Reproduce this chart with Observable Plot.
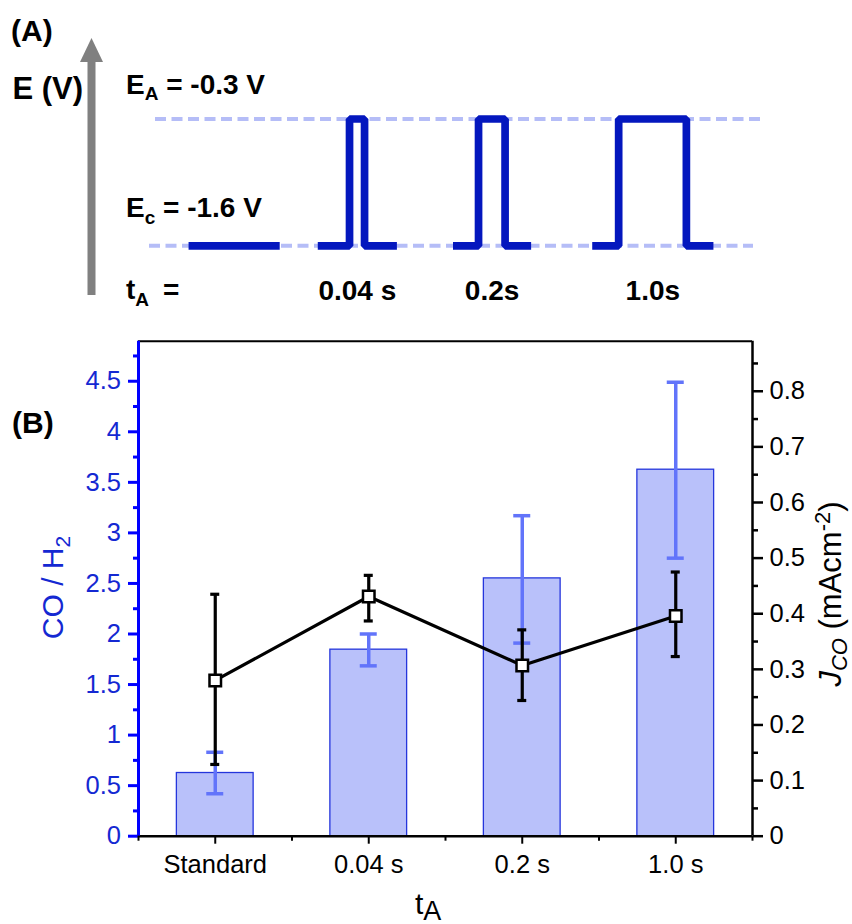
<!DOCTYPE html>
<html><head><meta charset="utf-8">
<script src="https://cdn.jsdelivr.net/npm/d3@7"></script>
<script src="https://cdn.jsdelivr.net/npm/@observablehq/plot@0.6"></script>
<style>
body{margin:0;background:#fff;}
#wrap{position:relative;width:852px;height:924px;font-family:"Liberation Sans",Arial,sans-serif;}
#wrap svg{display:block;}
</style></head><body><div id="wrap"></div>
<script>
// ---------- Panel A: potential waveform (schematic time units) ----------
const EA = -0.3, Ec = -1.6;
const waveNames = ["Standard", "0.04 s", "0.2s", "1.0s"];
const waveStart = [3.9, 16.8, 30.3, 44.2];
const pulseOn   = [null, 19.97, 32.85, 46.84];
const pulseOff  = [null, 21.47, 35.5, 53.6];
const waveEnd   = [13.0, 24.7, 38.1, 56.3];
const guideLevels = [EA, Ec];
const guideStart  = [0.6, 0];
const guideEnd    = [61, 60.3];

// ---------- Panel B: CO/H2 ratio (bars) and J_CO (line) ----------
const categories = ["Standard", "0.04 s", "0.2 s", "1.0 s"];
const ratio   = [0.625, 1.845, 2.55, 3.625];
const ratioHi = [0.83, 2.0, 3.17, 4.49];
const ratioLo = [0.42, 1.685, 1.91, 2.75];
const jco   = [0.28, 0.431, 0.307, 0.396];
const jcoHi = [0.435, 0.469, 0.371, 0.475];
const jcoLo = [0.129, 0.387, 0.244, 0.323];
const leftTicks  = [0, 0.5, 1, 1.5, 2, 2.5, 3, 3.5, 4, 4.5];
const leftMinor  = [0.25, 0.75, 1.25, 1.75, 2.25, 2.75, 3.25, 3.75, 4.25, 4.75];
const rightTicks = [0, 0.1, 0.2, 0.3, 0.4, 0.5, 0.6, 0.7, 0.8];
const rightMinor = [0.05, 0.15, 0.25, 0.35, 0.45, 0.55, 0.65, 0.75, 0.85];
const leftMax = 4.896, rightMax = 0.89;

const FONT = '"Liberation Sans", Arial, sans-serif';
const wrap = document.getElementById("wrap");

// ---------- build panel A ----------
const wave = [];
waveStart.forEach((s, i) => {
  wave.push({t: s, E: Ec, seg: i});
  if (pulseOn[i] != null) {
    wave.push({t: pulseOn[i], E: Ec, seg: i});
    wave.push({t: pulseOn[i], E: EA, seg: i});
    wave.push({t: pulseOff[i], E: EA, seg: i});
    wave.push({t: pulseOff[i], E: Ec, seg: i});
  }
  wave.push({t: waveEnd[i], E: Ec, seg: i});
});
const guides = guideLevels.map((E, i) => ({E, t1: guideStart[i], t2: guideEnd[i]}));
const pulseLabels = waveNames.map((name, i) => ({name, t: (waveStart[i] + waveEnd[i]) / 2, E: Ec, pulse: pulseOn[i] != null}))
  .filter(d => d.pulse);

const plotA = Plot.plot({
  width: 852, height: 320,
  marginLeft: 149, marginRight: 92, marginTop: 0, marginBottom: 0,
  style: {fontFamily: FONT, background: "transparent"},
  x: {domain: [0, 61], axis: null},
  y: {domain: [Ec, EA], range: [245.3, 118.5], axis: null},
  marks: [
    Plot.ruleY(guides, {y: "E", x1: "t1", x2: "t2", stroke: "#b5bdf7", strokeWidth: 4, strokeDasharray: "11,5.5"}),
    Plot.line(wave, {x: "t", y: "E", z: "seg", stroke: "#0417be", strokeWidth: 7.7, strokeLinejoin: "miter", strokeLinecap: "butt"}),
    Plot.text(pulseLabels, {x: "t", y: "E", text: "name", dy: 53.7, lineAnchor: "bottom", fontSize: 28, fontWeight: "bold", fill: "black"})
  ]
});
wrap.appendChild(plotA);
{
  const s = d3.select(plotA);
  const g = s.append("g").attr("font-family", FONT).attr("font-weight", "bold").attr("fill", "black").attr("text-anchor", "start");
  // arrow
  g.append("rect").attr("x", 87.5).attr("y", 60).attr("width", 8).attr("height", 235).attr("fill", "#808080");
  g.append("polygon").attr("points", "80,62 103,62 91.5,38").attr("fill", "#808080");
  g.append("text").attr("x", 11).attr("y", 40.5).attr("font-size", 30).text("(A)");
  g.append("text").attr("x", 12.5).attr("y", 99.3).attr("font-size", 31).text("E (V)");
  const ea = g.append("text").attr("x", 126).attr("y", 94).attr("font-size", 28);
  ea.append("tspan").text("E");
  ea.append("tspan").attr("font-size", 19).attr("dy", 6).text("A");
  ea.append("tspan").attr("dy", -6).text(" = -0.3 V");
  const ec = g.append("text").attr("x", 126).attr("y", 216.7).attr("font-size", 28);
  ec.append("tspan").text("E");
  ec.append("tspan").attr("font-size", 19).attr("dy", 7).text("c");
  ec.append("tspan").attr("dy", -7).text(" = -1.6 V");
  const ta = g.append("text").attr("x", 126).attr("y", 298.5).attr("font-size", 28);
  ta.append("tspan").text("t");
  ta.append("tspan").attr("font-size", 19).attr("dy", 7.5).text("A");
  ta.append("tspan").attr("x", 163).attr("dy", -7.5).text("=");
}

// ---------- build panel B ----------
const k = leftMax / rightMax;
const rows = categories.map((c, i) => ({
  i, c, r: ratio[i], rh: ratioHi[i], rl: ratioLo[i],
  j: jco[i] * k, jh: jcoHi[i] * k, jl: jcoLo[i] * k
}));
const rightLabel = new Map(rightTicks.map(v => [v * k, String(v)]));
const BLUE = "#0000ff", BLUETXT = "#1428d2";

const plotB = Plot.plot({
  width: 852, height: 604,
  marginLeft: 138, marginRight: 100, marginTop: 20.7, marginBottom: 88.3,
  style: {fontFamily: FONT, background: "transparent", fontSize: "25.5px"},
  x: {domain: [-0.5, 3.5]},
  y: {domain: [0, leftMax]},
  marks: [
    Plot.rect(rows, {x1: d => d.i - 0.25, x2: d => d.i + 0.25, y1: 0, y2: "r", fill: "#b9c1fa", stroke: "#2536dc", strokeWidth: 1.3}),
    Plot.ruleX(rows, {x: "i", y1: "rl", y2: "rh", stroke: "#6274fa", strokeWidth: 3.5}),
    Plot.ruleY(rows, {y: "rh", x1: "i", x2: "i", insetLeft: -8.5, insetRight: -8.5, stroke: "#6274fa", strokeWidth: 3.5}),
    Plot.ruleY(rows, {y: "rl", x1: "i", x2: "i", insetLeft: -8.5, insetRight: -8.5, stroke: "#6274fa", strokeWidth: 3.5}),
    Plot.line(rows, {x: "i", y: "j", stroke: "black", strokeWidth: 3.2}),
    Plot.ruleX(rows, {x: "i", y1: "jl", y2: "jh", stroke: "black", strokeWidth: 3.2}),
    Plot.ruleY(rows, {y: "jh", x1: "i", x2: "i", insetLeft: -4.5, insetRight: -4.5, stroke: "black", strokeWidth: 3.2}),
    Plot.ruleY(rows, {y: "jl", x1: "i", x2: "i", insetLeft: -4.5, insetRight: -4.5, stroke: "black", strokeWidth: 3.2}),
    Plot.dot(rows, {x: "i", y: "j", symbol: "square", r: 6.5, fill: "white", stroke: "black", strokeWidth: 2.5}),
    // frame
    Plot.ruleY([leftMax], {stroke: "black", strokeWidth: 2}),
    Plot.ruleX([3.5], {stroke: "black", strokeWidth: 2.5}),
    Plot.ruleY([0], {stroke: "black", strokeWidth: 2.5}),
    Plot.ruleX([-0.5], {stroke: BLUE, strokeWidth: 3}),
    // axes
    Plot.axisY(leftTicks, {anchor: "left", tickSize: 10, tickPadding: 7.5, stroke: BLUE, strokeWidth: 3, fill: BLUETXT, fontSize: 25.5, tickFormat: d => String(d), label: null}),
    Plot.axisY(leftMinor, {anchor: "left", tickSize: 5, stroke: BLUE, strokeWidth: 3, fill: "none", label: null}),
    Plot.axisY(rightTicks.map(v => v * k), {anchor: "right", tickSize: 10, tickPadding: 7, stroke: "black", strokeWidth: 2.5, fill: "black", fontSize: 25.5, tickFormat: d => rightLabel.get(d), label: null}),
    Plot.axisY(rightMinor.map(v => v * k), {anchor: "right", tickSize: 5, stroke: "black", strokeWidth: 2.5, fill: "none", label: null}),
    Plot.axisX([0, 1, 2, 3], {anchor: "bottom", tickSize: 8, tickPadding: 10.9, stroke: "black", strokeWidth: 2, fill: "black", fontSize: 25.5, tickFormat: i => categories[i], label: null}),
    Plot.axisX([-0.5, 0.5, 1.5, 2.5, 3.5], {anchor: "bottom", tickSize: 5, stroke: "black", strokeWidth: 2, fill: "none", label: null})
  ]
});
wrap.appendChild(plotB);
{
  const s = d3.select(plotB);
  const g = s.append("g").attr("font-family", FONT).attr("text-anchor", "start");
  g.append("text").attr("x", 12).attr("y", 113).attr("font-size", 30).attr("font-weight", "bold").attr("fill", "black").text("(B)");
  const co = g.append("text").attr("transform", "translate(63,267.5) rotate(-90)").attr("text-anchor", "middle")
    .attr("font-size", 30).attr("fill", BLUETXT);
  co.append("tspan").text("CO / H");
  co.append("tspan").attr("font-size", 21).attr("dy", 7).text("2");
  const jt = g.append("text").attr("transform", "translate(841,274) rotate(-90)").attr("text-anchor", "middle")
    .attr("font-size", 31).attr("fill", "black");
  jt.append("tspan").attr("font-style", "italic").text("J");
  jt.append("tspan").attr("font-style", "italic").attr("font-size", 22).attr("dy", 6).text("CO");
  jt.append("tspan").attr("dy", -6).text(" (mAcm");
  jt.append("tspan").attr("font-size", 22).attr("dy", -11).text("-2");
  jt.append("tspan").attr("dy", 11).text(")");
  const tt = g.append("text").attr("x", 415).attr("y", 593.5).attr("font-size", 30).attr("fill", "black");
  tt.append("tspan").text("t");
  tt.append("tspan").attr("font-size", 27).attr("dy", 6).text("A");
}
</script></body></html>
